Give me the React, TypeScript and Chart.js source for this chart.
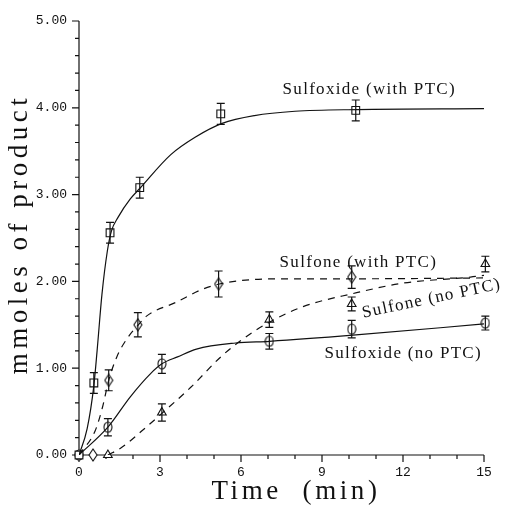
import React, { useEffect, useRef } from "react";
import { Chart, registerables } from "chart.js";

Chart.register(...registerables);

// ---- measured points (time in min, mmoles) ----
const sulfoxidePtcX = [0, 0.55, 1.15, 2.25, 5.25, 10.25];
const sulfoxidePtcY = [0, 0.83, 2.56, 3.08, 3.93, 3.97];
const sulfoxidePtcErr = [0, 0.12, 0.12, 0.12, 0.12, 0.12];

const sulfonePtcX = [0.52, 1.1, 2.18, 5.17, 10.1];
const sulfonePtcY = [0, 0.86, 1.5, 1.97, 2.05];
const sulfonePtcErr = [0, 0.12, 0.14, 0.15, 0.13];

const sulfoneNoPtcX = [1.07, 3.07, 7.05, 10.1, 15.05];
const sulfoneNoPtcY = [0, 0.49, 1.56, 1.74, 2.2];
const sulfoneNoPtcErr = [0, 0.1, 0.09, 0.08, 0.09];

const sulfoxideNoPtcX = [0, 1.07, 3.07, 7.05, 10.1, 15.05];
const sulfoxideNoPtcY = [0, 0.32, 1.05, 1.31, 1.45, 1.52];
const sulfoxideNoPtcErr = [0, 0.1, 0.11, 0.09, 0.1, 0.08];

// ---- fitted curves ----
const curveSulfoxidePtcX = [0, 0.3, 0.55, 0.67, 0.85, 1.05, 1.2, 1.45, 1.9, 2.25, 3.4, 4.3, 5.3, 6.5, 8, 10.3, 15];
const curveSulfoxidePtcY = [0, 0.3, 0.8, 1.2, 1.85, 2.35, 2.58, 2.74, 2.95, 3.07, 3.46, 3.66, 3.82, 3.91, 3.96, 3.98, 3.99];

const curveSulfonePtcX = [0, 0.6, 0.87, 1.1, 1.4, 1.8, 2.2, 2.5, 3.6, 4.5, 5.2, 6, 7.5, 10.2, 15];
const curveSulfonePtcY = [0, 0.28, 0.55, 0.86, 1.13, 1.35, 1.5, 1.6, 1.76, 1.9, 1.97, 2.01, 2.03, 2.03, 2.04];

const curveSulfoxideNoPtcX = [0, 1.07, 1.9, 2.66, 3.07, 3.65, 4.35, 5.8, 7.05, 10.15, 15];
const curveSulfoxideNoPtcY = [0, 0.32, 0.67, 0.94, 1.05, 1.13, 1.22, 1.29, 1.31, 1.38, 1.51];

const curveSulfoneNoPtcX = [1.07, 1.55, 2.3, 3.07, 4.14, 5.25, 6, 7.05, 8.3, 10.15, 12, 14.5, 15];
const curveSulfoneNoPtcY = [0, 0.08, 0.27, 0.48, 0.78, 1.13, 1.32, 1.53, 1.71, 1.86, 1.98, 2.05, 2.07];

const yTickLabels = ["0.00", "1.00", "2.00", "3.00", "4.00", "5.00"];
const xTickLabels = ["0", "3", "6", "9", "12", "15"];

const seriesNames = [
  "Sulfoxide (with PTC)",
  "Sulfone (with PTC)",
  "Sulfone (no PTC)",
  "Sulfoxide (no PTC)",
];

const INK = "#111";

function pts(xs: number[], ys: number[]) {
  return xs.map((x, i) => ({ x, y: ys[i] }));
}

function makeMarker(kind: "diamond" | "ellipse"): HTMLCanvasElement {
  const c = document.createElement("canvas");
  const w = 10;
  const h = kind === "diamond" ? 14 : 12;
  c.width = w;
  c.height = h;
  const g = c.getContext("2d")!;
  g.fillStyle = "#fff";
  g.strokeStyle = INK;
  g.lineWidth = 1.1;
  g.beginPath();
  if (kind === "diamond") {
    g.moveTo(w / 2, 1);
    g.lineTo(w - 1, h / 2);
    g.lineTo(w / 2, h - 1);
    g.lineTo(1, h / 2);
    g.closePath();
  } else {
    g.ellipse(w / 2, h / 2, w / 2 - 1, h / 2 - 1, 0, 0, Math.PI * 2);
  }
  g.fill();
  g.stroke();
  return c;
}

const errorBarPlugin = {
  id: "errorBars",
  afterDatasetsDraw(chart: any) {
    const { ctx, scales } = chart;
    const xs = scales.x;
    const ys = scales.y;
    ctx.save();
    ctx.strokeStyle = INK;
    ctx.lineWidth = 1.2;
    chart.data.datasets.forEach((ds: any) => {
      if (!ds.errors) return;
      ds.data.forEach((p: any, i: number) => {
        const e = ds.errors[i];
        if (!e) return;
        const px = xs.getPixelForValue(p.x);
        const y1 = ys.getPixelForValue(p.y - e);
        const y2 = ys.getPixelForValue(p.y + e);
        ctx.beginPath();
        ctx.moveTo(px, y1);
        ctx.lineTo(px, y2);
        ctx.moveTo(px - 4, y1);
        ctx.lineTo(px + 4, y1);
        ctx.moveTo(px - 4, y2);
        ctx.lineTo(px + 4, y2);
        ctx.stroke();
      });
    });
    ctx.restore();
  },
};

const axesPlugin = {
  id: "axesTicks",
  beforeDatasetsDraw(chart: any) {
    const { ctx, chartArea, scales } = chart;
    const { left, right, top, bottom } = chartArea;
    ctx.save();
    ctx.strokeStyle = INK;
    ctx.lineWidth = 1.2;
    ctx.beginPath();
    ctx.moveTo(left, top);
    ctx.lineTo(left, bottom);
    ctx.lineTo(right, bottom);
    for (let k = 0; k <= 25; k++) {
      const v = k * 0.2;
      const py = scales.y.getPixelForValue(v);
      const len = k % 5 === 0 ? 7 : 4;
      ctx.moveTo(left - len, py);
      ctx.lineTo(left, py);
    }
    for (let t = 0; t <= 15; t++) {
      const px = scales.x.getPixelForValue(t);
      const len = t % 3 === 0 ? 7 : 4;
      ctx.moveTo(px, bottom);
      ctx.lineTo(px, bottom + len);
    }
    ctx.stroke();
    ctx.restore();
  },
};

// label anchors in data units (left/baseline), with rotation in degrees
const labelAnchors = [
  { x: 7.54, y: 4.16, rot: 0 },
  { x: 7.43, y: 2.17, rot: 0 },
  { x: 10.53, y: 1.58, rot: -12 },
  { x: 9.09, y: 1.12, rot: 0 },
];

const textPlugin = {
  id: "texts",
  afterDraw(chart: any) {
    const { ctx, scales } = chart;
    ctx.save();
    ctx.fillStyle = INK;
    ctx.font = '17px "Liberation Serif"';
    (ctx as any).letterSpacing = "1.3px";
    ctx.textAlign = "left";
    ctx.textBaseline = "alphabetic";
    labelAnchors.forEach((a, i) => {
      const px = scales.x.getPixelForValue(a.x);
      const py = scales.y.getPixelForValue(a.y);
      ctx.save();
      ctx.translate(px, py);
      ctx.rotate((a.rot * Math.PI) / 180);
      ctx.fillText(seriesNames[i], 0, 0);
      ctx.restore();
    });
    ctx.font = '27px "Liberation Serif"';
    (ctx as any).letterSpacing = "3.6px";
    ctx.textAlign = "center";
    ctx.fillText("Time  (min)", 296, 499);
    (ctx as any).letterSpacing = "4.5px";
    ctx.save();
    ctx.translate(27, 234);
    ctx.rotate(-Math.PI / 2);
    ctx.fillText("mmoles of product", 0, 0);
    ctx.restore();
    ctx.restore();
  },
};

export default function App() {
  const ref = useRef<HTMLCanvasElement>(null);
  useEffect(() => {
    document.body.style.margin = "0";
    const diamond = makeMarker("diamond");
    const ellipse = makeMarker("ellipse");
    const curveBase = {
      type: "line" as const,
      showLine: true,
      pointRadius: 0,
      borderColor: INK,
      borderWidth: 1.2,
      fill: false,
      cubicInterpolationMode: "monotone" as const,
    };
    const markerBase = {
      type: "scatter" as const,
      showLine: false,
      borderColor: INK,
      backgroundColor: "#fff",
      borderWidth: 1.1,
      clip: false as any,
    };
    const chart = new Chart(ref.current!, {
      type: "scatter",
      data: {
        datasets: [
          { ...curveBase, label: "c1", data: pts(curveSulfoxidePtcX, curveSulfoxidePtcY) },
          { ...curveBase, label: "c2", borderDash: [7, 6], data: pts(curveSulfonePtcX, curveSulfonePtcY) },
          { ...curveBase, label: "c3", data: pts(curveSulfoxideNoPtcX, curveSulfoxideNoPtcY) },
          { ...curveBase, label: "c4", borderDash: [7, 6], data: pts(curveSulfoneNoPtcX, curveSulfoneNoPtcY) },
          { ...markerBase, label: seriesNames[0], pointStyle: "rect", pointRadius: 5.5, data: pts(sulfoxidePtcX, sulfoxidePtcY), errors: sulfoxidePtcErr } as any,
          { ...markerBase, label: seriesNames[1], pointStyle: diamond, data: pts(sulfonePtcX, sulfonePtcY), errors: sulfonePtcErr } as any,
          { ...markerBase, label: seriesNames[2], pointStyle: "triangle", pointRadius: 5, data: pts(sulfoneNoPtcX, sulfoneNoPtcY), errors: sulfoneNoPtcErr } as any,
          { ...markerBase, label: seriesNames[3], pointStyle: ellipse, data: pts(sulfoxideNoPtcX, sulfoxideNoPtcY), errors: sulfoxideNoPtcErr } as any,
        ] as any,
      },
      options: {
        animation: false,
        responsive: false,
        maintainAspectRatio: false,
        layout: { padding: { left: 0, top: 21, right: 24, bottom: 0 } },
        plugins: { legend: { display: false }, tooltip: { enabled: false } },
        scales: {
          x: {
            type: "linear",
            min: 0,
            max: 15,
            grid: { display: false },
            border: { display: false },
            ticks: {
              stepSize: 3,
              padding: 2,
              color: INK,
              font: { family: '"Liberation Mono"', size: 13 },
              callback: (v: any) => xTickLabels[Math.round(Number(v) / 3)] ?? "",
            },
            afterFit: (s: any) => {
              s.height = 50;
            },
          },
          y: {
            type: "linear",
            min: 0,
            max: 5,
            grid: { display: false },
            border: { display: false },
            ticks: {
              stepSize: 1,
              padding: 4,
              color: INK,
              font: { family: '"Liberation Mono"', size: 13 },
              callback: (v: any) => yTickLabels[Math.round(Number(v))] ?? "",
            },
            afterFit: (s: any) => {
              s.width = 79;
            },
          },
        },
      },
      plugins: [axesPlugin, errorBarPlugin, textPlugin],
    });
    return () => chart.destroy();
  }, []);
  return (
    <div style={{ position: "fixed", left: 0, top: 0, width: 508, height: 505, background: "#fff" }}>
      <canvas ref={ref} width={508} height={505} style={{ width: 508, height: 505 }} />
    </div>
  );
}
